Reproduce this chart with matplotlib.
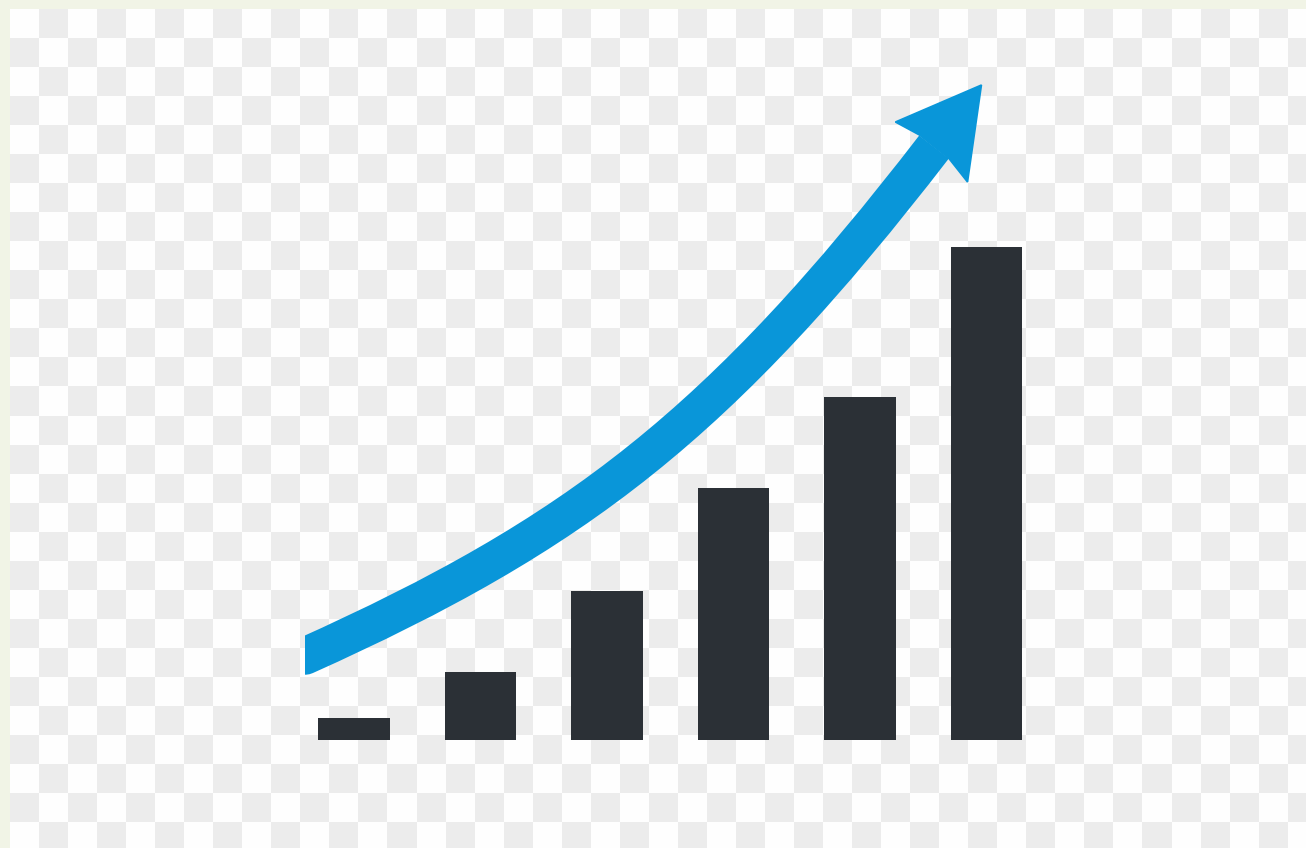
import numpy as np
import matplotlib
matplotlib.use("Agg")
import matplotlib.pyplot as plt
from matplotlib.colors import ListedColormap
from matplotlib.patches import Rectangle, Polygon, PathPatch
from matplotlib.path import Path

# ---- data ----
categories = [1, 2, 3, 4, 5, 6]
values = [22, 68, 149, 252, 343, 493]

# growth-arrow shaft as Bezier control points in data units
# (x = category index, y = value)
arrow_x = [-0.55, -0.387, 1.759, 2.896, 4.585]
arrow_y = [91, 84, 206, 316, 593]
head_x = [4.96, 4.28, 4.47, 4.70, 4.85]
head_y = [655, 618, 605, 582, 558]
arrow_start_x = -0.387

BAR_COLOR = "#2b3036"
BLUE = "#0996d9"

W, H = 1306, 848
fig = plt.figure(figsize=(W / 100, H / 100), dpi=100)

# background: transparent-checker look with a thin cream border
bg = fig.add_axes([0, 0, 1, 1])
bg.add_patch(Rectangle((0, 0), W, H, color="#f1f4e6", zorder=0))
s = 29.04
nrows, ncols = 29, 45
checker = np.add.outer(np.arange(nrows), np.arange(ncols)) % 2
bg.imshow(checker, cmap=ListedColormap(["#fefefe", "#ececec"]),
          extent=(10, 10 + ncols * s, 9 + nrows * s, 9),
          interpolation="nearest", aspect="auto", zorder=1)
bg.set_xlim(0, W)
bg.set_ylim(H, 0)
bg.axis("off")

# main chart axes
ax = fig.add_axes([0, 0, 1, 1])
ax.patch.set_alpha(0)
x = np.arange(len(categories))
ax.bar(x, values, width=0.565, color=BAR_COLOR, zorder=2)

verts = list(zip(arrow_x, arrow_y))
codes = [Path.MOVETO, Path.LINETO, Path.CURVE4, Path.CURVE4, Path.CURVE4]
shaft = PathPatch(Path(verts, codes), fill=False, edgecolor=BLUE, lw=27,
                  capstyle="butt", joinstyle="round", zorder=3)
ax.add_patch(shaft)
clip = Rectangle((arrow_start_x, -500), 20, 3000, transform=ax.transData)
shaft.set_clip_path(clip)

ax.add_patch(Polygon(np.column_stack([head_x, head_y]), closed=True,
                     facecolor=BLUE, edgecolor=BLUE, lw=1.2,
                     joinstyle="miter", zorder=4))
ax.set_xlim(-354 / 126.5, (W - 354) / 126.5)
ax.set_ylim(-108, 740)
ax.axis("off")

fig.savefig("out.png", dpi=100)
